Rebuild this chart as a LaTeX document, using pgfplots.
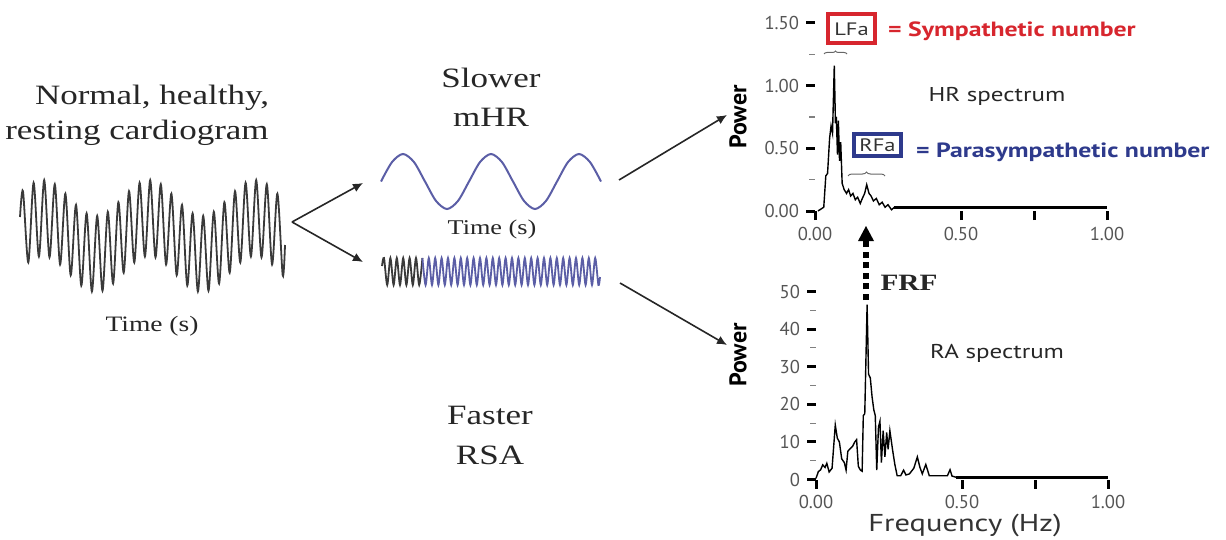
\documentclass[border=0pt]{standalone}
\usepackage{fontspec}
\setmainfont{Liberation Serif}
\setsansfont{PT Sans}
\usepackage{graphicx}
\usepackage{pgfplots}
\pgfplotsset{compat=1.18}
\usetikzlibrary{arrows.meta,decorations.pathreplacing}

\definecolor{wavegray}{HTML}{3A3A3A}
\definecolor{waveblue}{HTML}{5B5EA6}
\definecolor{symred}{HTML}{D7262E}
\definecolor{parblue}{HTML}{2E3A8C}
\definecolor{ticklab}{HTML}{555555}
\newcommand\sx[1]{\scalebox{1.25}[1]{#1}}

% spectra share one look
\pgfplotsset{spec/.style={
  width=146pt, height=94pt, scale only axis, anchor=south west,
  xmin=0, xmax=1, axis lines*=left, axis line style={draw=none},
  tick align=outside, major tick length=4.5pt, minor tick length=3pt,
  every major tick/.append style={line width=1.5pt, black},
  every minor tick/.append style={line width=0.6pt, gray},
  xtick={0,0.5,0.75,1}, xticklabels={0.00,0.50,,1.00},
  ticklabel style={font=\sffamily\fontsize{9.3}{10}\selectfont, text=ticklab},
  clip=false,
}}

\begin{document}
\begin{tikzpicture}
\path[use as bounding box] (0pt,0pt) rectangle (613pt,-270pt);

% waveforms in pixel units of the reference
\begin{axis}[at={(0pt,0pt)}, anchor=north west, width=613pt, height=270pt,
  scale only axis, hide axis, clip=false,
  xmin=0, xmax=1226, ymin=0, ymax=540, y dir=reverse]
\addplot[wavegray, line width=0.9pt, smooth] coordinates {
(20,217) (23,191.2) (28.3,262.4) (33.6,182.7) (38.9,256.5) (44.2,180.1)
(49.5,257.3) (54.8,184.2) (60.1,264.5) (65.4,193.7) (70.7,275.3) (76,204.8)
(81.3,285.6) (86.6,213.3) (91.9,291.5) (97.2,215.9) (102.5,290.7) (107.8,211.8)
(113.1,283.5) (118.4,202.3) (123.7,272.7) (129,191.2) (134.3,262.4) (139.6,182.7)
(144.9,256.5) (150.2,180.1) (155.5,257.3) (160.8,184.2) (166.1,264.5) (171.4,193.7)
(176.7,275.3) (182,204.8) (187.3,285.6) (192.6,213.3) (197.9,291.5) (203.2,215.9)
(208.5,290.7) (213.8,211.8) (219.1,283.5) (224.4,202.3) (229.7,272.7) (235,191.2)
(240.3,262.4) (245.6,182.7) (250.9,256.5) (256.2,180.1) (261.5,257.3) (266.8,184.2)
(272.1,264.5) (277.4,193.7) (282.7,275.3) (285,245)};
% slow wave (mHR)
\addplot[waveblue, line width=1pt, smooth] coordinates {
(381,181.5) (392,162.1) (403,154) (414,162.1) (425,181.5) (436,200.9) (447,209)
(458,200.9) (469,181.5) (480,162.1) (491,154) (502,162.1) (513,181.5) (524,200.9)
(535,209) (546,200.9) (557,181.5) (568,162.1) (579,154) (590,162.1) (601,181.5)};
% fast wave (RSA), black start
\addplot[wavegray, line width=0.9pt, smooth] coordinates {
(382,266) (384,258) (387.2,285) (390.4,258) (393.6,285) (396.8,258) (400,285)
(403.2,258) (406.4,285) (409.6,258) (412.8,285) (416,258) (419.2,285) (422.4,258)};
\addplot[waveblue, line width=0.9pt, smooth] coordinates {
(422.4,258) (425.6,285) (428.8,258) (432,285) (435.2,258) (438.4,285) (441.6,258)
(444.8,285) (448,258) (451.2,285) (454.4,258) (457.6,285) (460.8,258) (464,285)
(467.2,258) (470.4,285) (473.6,258) (476.8,285) (480,258) (483.2,285) (486.4,258)
(489.6,285) (492.8,258) (496,285) (499.2,258) (502.4,285) (505.6,258) (508.8,285)
(512,258) (515.2,285) (518.4,258) (521.6,285) (524.8,258) (528,285) (531.2,258)
(534.4,285) (537.6,258) (540.8,285) (544,258) (547.2,285) (550.4,258) (553.6,285)
(556.8,258) (560,285) (563.2,258) (566.4,285) (569.6,258) (572.8,285) (576,258)
(579.2,285) (582.4,258) (585.6,285) (588.8,258) (592,285) (595.2,258) (598.4,285)
(600,277)};
\end{axis}

% HR spectrum
\begin{axis}[spec, at={(407.5pt,-105.5pt)}, ymin=0, ymax=1.5,
  ytick={0,0.5,1,1.5}, yticklabels={0.00,0.50,1.00,1.50},
  minor ytick={0.25,0.75,1.25}]
\addplot[black, line width=0.7pt] coordinates {
(0.010,0.00) (0.030,0.03) (0.037,0.28) (0.043,0.30) (0.050,0.58) (0.055,0.68)
(0.060,0.62) (0.066,1.16) (0.070,0.70) (0.073,0.75) (0.077,0.45) (0.080,0.72)
(0.084,0.40) (0.088,0.55) (0.093,0.22) (0.100,0.17) (0.108,0.14) (0.115,0.17)
(0.122,0.12) (0.130,0.14) (0.138,0.09) (0.146,0.11) (0.155,0.06) (0.162,0.10)
(0.170,0.14) (0.177,0.21) (0.185,0.14) (0.192,0.12) (0.200,0.08) (0.210,0.10)
(0.220,0.05) (0.230,0.07) (0.240,0.03) (0.250,0.05) (0.262,0.01) (0.272,0.03)};
\addplot[black, line width=1.3pt] coordinates {(0.272,0.03) (1,0.03)};
\end{axis}

% RA spectrum
\begin{axis}[spec, at={(408pt,-239.75pt)}, ymin=0, ymax=50,
  ytick={0,10,20,30,40,50}, yticklabels={0,10,20,30,40,50},
  minor ytick={5,15,25,35,45}]
\addplot[black, line width=0.7pt] coordinates {
(0.000,0.3) (0.008,2.1) (0.016,2.6) (0.023,3.9) (0.031,3.2) (0.037,4.3)
(0.045,2.0) (0.055,3.0) (0.066,14.5) (0.073,11.0) (0.080,10.0) (0.088,5.5)
(0.097,4.5) (0.103,2.5) (0.109,7.5) (0.118,8.3) (0.125,8.8) (0.133,10.0)
(0.139,10.6) (0.145,3.5) (0.152,2.5) (0.158,2.2) (0.162,17.0) (0.167,17.5)
(0.175,46.5) (0.180,28.0) (0.186,27.0) (0.192,22.0) (0.198,18.5) (0.203,17.0)
(0.208,2.5) (0.214,14.0) (0.219,15.5) (0.224,4.5) (0.230,13.0) (0.236,6.0)
(0.242,12.5) (0.247,8.0) (0.253,13.0) (0.262,8.0) (0.270,4.0) (0.278,1.0)
(0.290,1.0) (0.300,2.5) (0.308,1.2) (0.320,1.5) (0.335,3.0) (0.347,6.0)
(0.356,3.2) (0.364,1.5) (0.376,4.0) (0.388,1.0) (0.420,1.0) (0.450,1.0)
(0.459,2.6) (0.466,0.9) (0.480,0.6)};
\addplot[black, line width=1.3pt] coordinates {(0.48,0.6) (1,0.6)};
\end{axis}

\begin{scope}[x=0.5pt, y=-0.5pt]
% serif captions
\node[font=\fontsize{14}{16}\selectfont, text=black!85] at (152,98) {\sx{Normal, healthy,}};
\node[font=\fontsize{14}{16}\selectfont, text=black!85] at (137,133) {\sx{resting cardiogram}};
\node[font=\fontsize{11}{13}\selectfont, text=black!85] at (152,326) {\sx{Time (s)}};
\node[font=\fontsize{14}{16}\selectfont, text=black!85] at (491,78) {\sx{Slower}};
\node[font=\fontsize{14}{16}\selectfont, text=black!85] at (491,117) {\sx{mHR}};
\node[font=\fontsize{10.5}{12}\selectfont, text=black!85] at (492,229) {\sx{Time (s)}};
\node[font=\fontsize{14}{16}\selectfont, text=black!85] at (490,415) {\sx{Faster}};
\node[font=\fontsize{14}{16}\selectfont, text=black!85] at (490,455) {\sx{RSA}};
\node[font=\fontsize{11.7}{13}\selectfont\bfseries, text=black!85] at (909,283) {\sx{FRF}};

% arrows
\draw[black!85, line width=0.8pt, -{Latex[length=5pt,width=4.5pt]}] (292,222) -- (363,183);
\draw[black!85, line width=0.8pt, -{Latex[length=5pt,width=4.5pt]}] (292,222) -- (363,262);
\draw[black!85, line width=0.8pt, -{Latex[length=5pt,width=4.5pt]}] (619,180) -- (727,115);
\draw[black!85, line width=0.8pt, -{Latex[length=5pt,width=4.5pt]}] (620,283) -- (727,345);

% FRF dotted arrow
\draw[black, line width=2.7pt, dash pattern=on 3pt off 2.3pt] (866,300) -- (866,241);
\fill[black] (866,226) -- (874,241) -- (858,241) -- cycle;

% axis labels and titles
\node[font=\sffamily\bfseries\fontsize{12}{14}\selectfont, rotate=90] at (738,117) {Power};
\node[font=\sffamily\bfseries\fontsize{12}{14}\selectfont, rotate=90] at (738,355) {Power};
\node[font=\sffamily\fontsize{10}{12}\selectfont, text=black!85] at (997,96) {\sx{HR spectrum}};
\node[font=\sffamily\fontsize{10}{12}\selectfont, text=black!85] at (997,353) {\sx{RA spectrum}};
\node[font=\sffamily\fontsize{12.2}{14}\selectfont, text=black!80, inner sep=0pt] at (965,525) {\sx{Frequency (Hz)}};

% LFa / RFa
\draw[symred, line width=2pt] (828,14) rectangle (875,43);
\node[font=\sffamily\fontsize{9}{11}\selectfont, text=black!80] at (851.5,29) {\sx{LFa}};
\node[font=\sffamily\bfseries\fontsize{10.3}{12}\selectfont, text=symred, anchor=west] at (881,31) {\sx{= Sympathetic number}};
\draw[black!60, line width=0.5pt, decorate, decoration={brace, amplitude=1.5pt}] (824,54) -- (847,54);
\draw[parblue, line width=2pt] (854,134) rectangle (901,156);
\node[font=\sffamily\fontsize{9}{11}\selectfont, text=black!80] at (877.5,145) {\sx{RFa}};
\node[font=\sffamily\bfseries\fontsize{10.3}{12}\selectfont, text=parblue, anchor=west] at (909,152) {\sx{= Parasympathetic number}};
\draw[black!60, line width=0.5pt, decorate, decoration={brace, amplitude=2pt}] (848,176) -- (885,176);
\end{scope}
\end{tikzpicture}
\end{document}
